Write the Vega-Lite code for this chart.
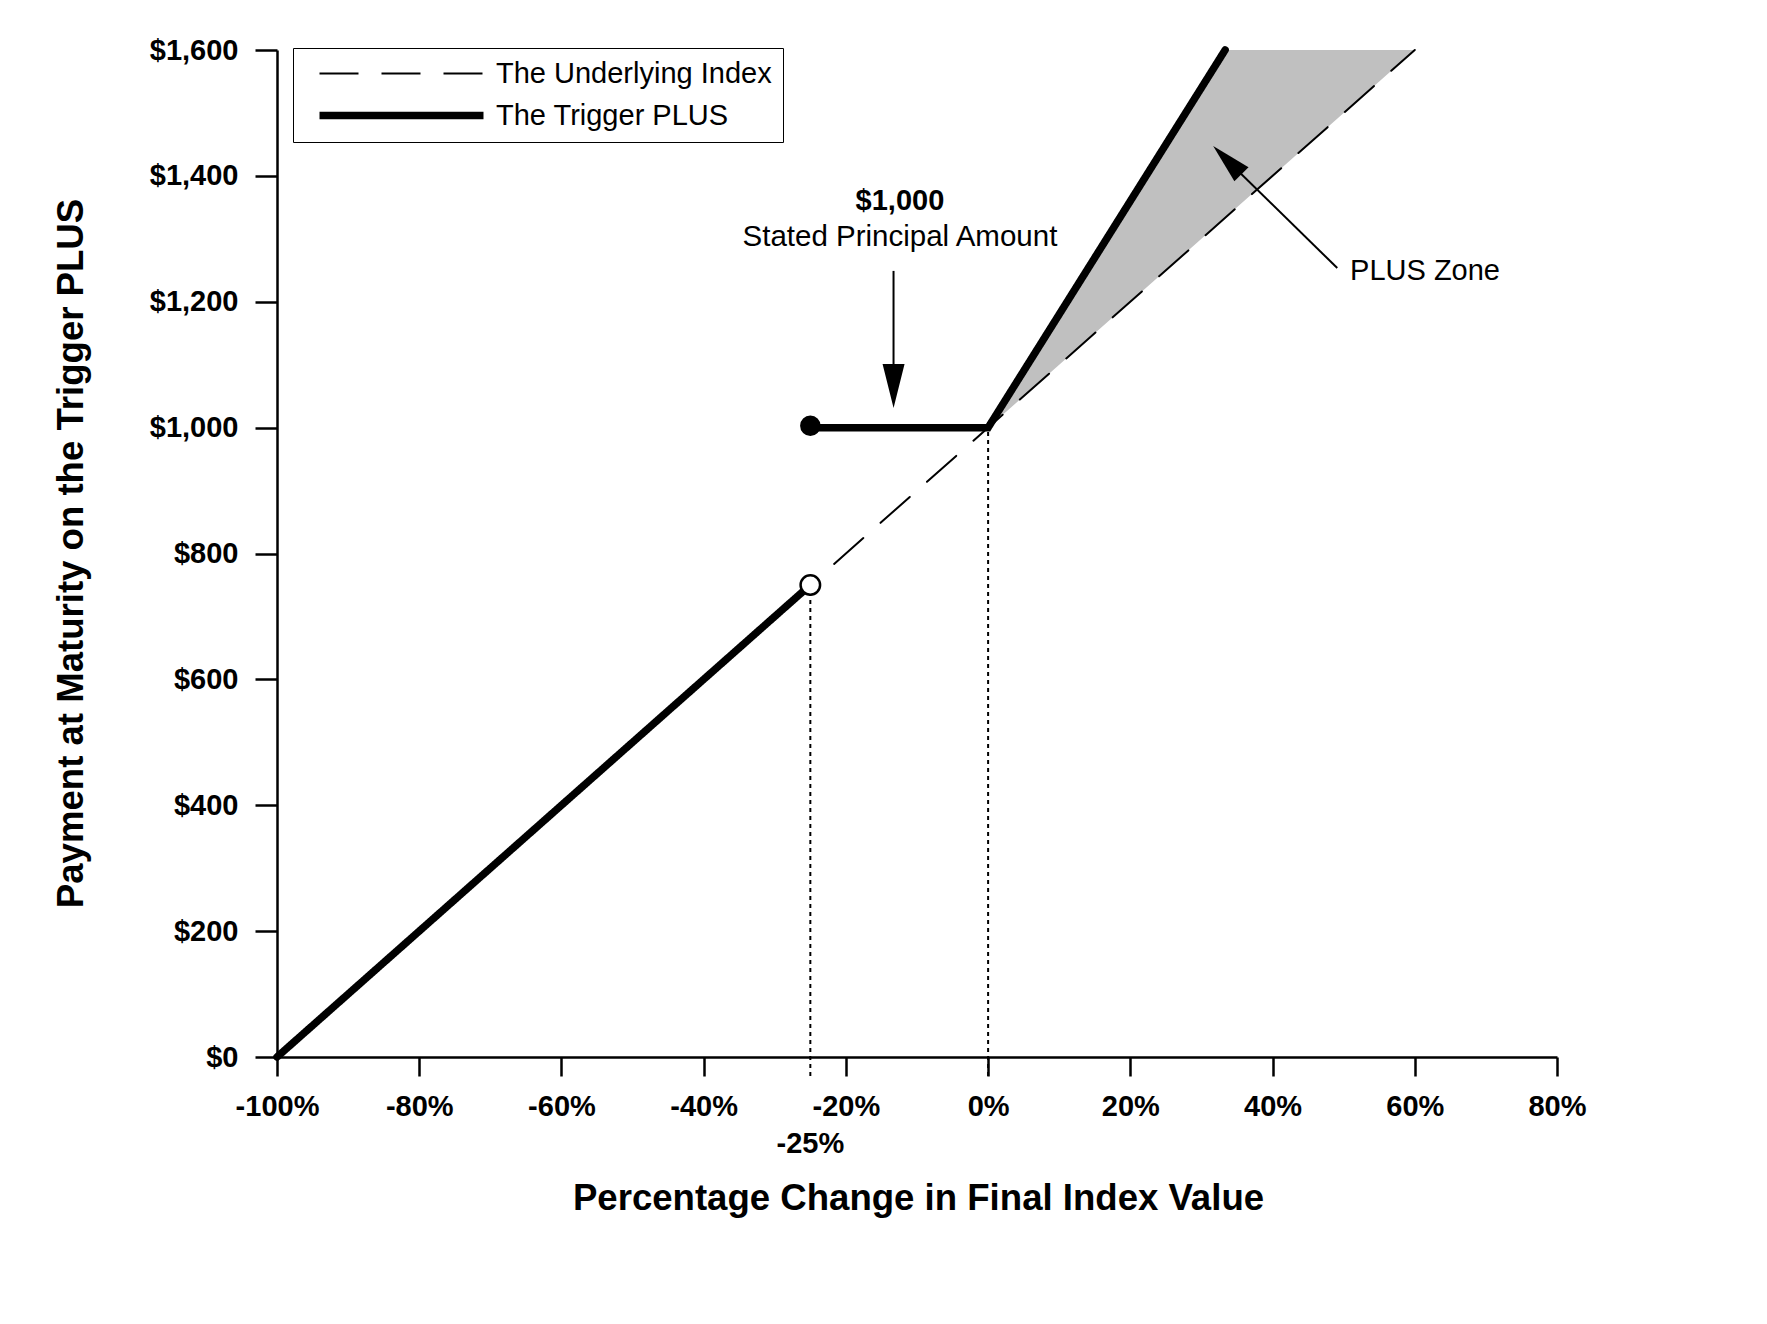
{
  "$schema": "https://vega.github.io/schema/vega-lite/v6.json",
  "autosize": {"type": "none"},
  "padding": {"left": 277, "top": 50, "right": 210, "bottom": 267},
  "width": 1280,
  "height": 1007,
  "config": {
    "font": "Liberation Sans",
    "view": {"stroke": null},
    "axis": {"grid": false, "domainColor": "black", "tickColor": "black", "labelColor": "black", "titleColor": "black", "domainWidth": 2.5, "tickWidth": 2.5, "labelFontSize": 29, "labelFontWeight": "bold", "titleFontSize": 36.6, "titleFontWeight": "bold", "labelOverlap": false, "labelFlush": false}
  },
  "datasets": {
    "zone": [
      {"x": 0, "y": 1000, "y2": 1000},
      {"x": 33.33, "y": 1600, "y2": 1333.3},
      {"x": 60, "y": 1600, "y2": 1600}
    ],
    "vlines": [
      {"x": -25, "y": -30, "y2": 750},
      {"x": 0, "y": -30, "y2": 1000}
    ],
    "lines": [
      {"x": -100, "y": 0, "series": "The Underlying Index", "seg": "index"},
      {"x": 60, "y": 1600, "series": "The Underlying Index", "seg": "index"},
      {"x": -100, "y": 0, "series": "The Trigger PLUS", "seg": "loss"},
      {"x": -25, "y": 750, "series": "The Trigger PLUS", "seg": "loss"},
      {"x": -25, "y": 1000, "series": "The Trigger PLUS", "seg": "gain"},
      {"x": 0, "y": 1000, "series": "The Trigger PLUS", "seg": "gain"},
      {"x": 33.33, "y": 1600, "series": "The Trigger PLUS", "seg": "gain"}
    ],
    "filled": [{"x": -25, "y": 1003}],
    "open": [{"x": -25, "y": 750}],
    "arrows": [
      {"x": -13.3, "y": 1249, "x2": -13.3, "y2": 1060},
      {"x": 49.1, "y": 1253.6, "x2": 33.33, "y2": 1428}
    ],
    "headDown": [{"x": -13.3, "y": 1031}],
    "headDiag": [{"x": 31.65, "y": 1447.5}],
    "boldText": [
      {"x": -12.4, "y": 1360, "label": "$1,000"},
      {"x": -25, "y": -138, "label": "-25%"}
    ],
    "regText": [{"x": -12.4, "y": 1303, "label": "Stated Principal Amount"}],
    "leftText": [{"x": 50.9, "y": 1249, "label": "PLUS Zone"}]
  },
  "layer": [
    {
      "data": {"name": "zone"},
      "mark": {"type": "area", "color": "#c0c0c0", "opacity": 1},
      "encoding": {
        "x": {
          "field": "x", "type": "quantitative",
          "scale": {"domain": [-100, 80], "nice": false, "zero": false},
          "axis": {
            "values": [-100, -80, -60, -40, -20, 0, 20, 40, 60, 80],
            "labelExpr": "datum.value + '%'",
            "tickSize": 19, "labelPadding": 16,
            "title": "Percentage Change in Final Index Value",
            "titleX": 641, "titleY": 141, "titleBaseline": "middle", "titleAnchor": null
          }
        },
        "y": {
          "field": "y", "type": "quantitative",
          "scale": {"domain": [0, 1600], "nice": false},
          "axis": {
            "values": [0, 200, 400, 600, 800, 1000, 1200, 1400, 1600],
            "format": "$,.0f",
            "tickSize": 22, "labelPadding": 17,
            "title": "Payment at Maturity on the Trigger PLUS",
            "titleX": -206, "titleY": 503, "titleAngle": -90, "titleAlign": "center", "titleBaseline": "middle"
          }
        },
        "y2": {"field": "y2"}
      }
    },
    {
      "data": {"name": "vlines"},
      "mark": {"type": "rule", "color": "black", "strokeWidth": 2, "strokeDash": [4, 4]},
      "encoding": {
        "x": {"field": "x", "type": "quantitative"},
        "y": {"field": "y", "type": "quantitative"},
        "y2": {"field": "y2"}
      }
    },
    {
      "data": {"name": "lines"},
      "mark": {"type": "line", "color": "black", "strokeCap": "round"},
      "encoding": {
        "x": {"field": "x", "type": "quantitative"},
        "y": {"field": "y", "type": "quantitative"},
        "detail": {"field": "seg"},
        "strokeDash": {
          "field": "series", "type": "nominal",
          "scale": {"domain": ["The Underlying Index", "The Trigger PLUS"], "range": [[39, 23], [1, 0]]},
          "legend": {
            "title": null, "orient": "none", "legendX": 16, "legendY": -2,
            "symbolType": "M 0.1 0 L 16.5 0", "symbolSize": 400,
            "labelFontSize": 29, "labelFont": "Liberation Sans", "labelColor": "black", "labelOffset": 163, "labelLimit": 500,
            "rowPadding": 11, "padding": 11, "strokeColor": "black"
          }
        },
        "strokeWidth": {
          "field": "series", "type": "nominal",
          "scale": {"type": "ordinal", "domain": ["The Underlying Index", "The Trigger PLUS"], "range": [2, 7.5]},
          "legend": {
            "title": null, "orient": "none", "legendX": 16, "legendY": -2,
            "symbolType": "M 0.1 0 L 16.5 0", "symbolSize": 400,
            "labelFontSize": 29, "labelFont": "Liberation Sans", "labelColor": "black", "labelOffset": 163, "labelLimit": 500,
            "rowPadding": 11, "padding": 11, "strokeColor": "black"
          }
        }
      }
    },
    {
      "data": {"name": "filled"},
      "mark": {"type": "point", "filled": true, "color": "black", "size": 420, "opacity": 1},
      "encoding": {"x": {"field": "x", "type": "quantitative"}, "y": {"field": "y", "type": "quantitative"}}
    },
    {
      "data": {"name": "open"},
      "mark": {"type": "point", "filled": false, "fill": "white", "fillOpacity": 1, "stroke": "black", "strokeWidth": 2.5, "size": 380, "opacity": 1},
      "encoding": {"x": {"field": "x", "type": "quantitative"}, "y": {"field": "y", "type": "quantitative"}}
    },
    {
      "data": {"name": "arrows"},
      "mark": {"type": "rule", "color": "black", "strokeWidth": 2},
      "encoding": {
        "x": {"field": "x", "type": "quantitative"},
        "y": {"field": "y", "type": "quantitative"},
        "x2": {"field": "x2"},
        "y2": {"field": "y2"}
      }
    },
    {
      "data": {"name": "headDown"},
      "mark": {"type": "point", "shape": "M 0 0 L -0.5 2 L 0.5 2 Z", "angle": 180, "filled": true, "color": "black", "size": 1936, "opacity": 1},
      "encoding": {"x": {"field": "x", "type": "quantitative"}, "y": {"field": "y", "type": "quantitative"}}
    },
    {
      "data": {"name": "headDiag"},
      "mark": {"type": "point", "shape": "M 0 0 L -0.5 2 L 0.5 2 Z", "angle": -45, "filled": true, "color": "black", "size": 1600, "opacity": 1},
      "encoding": {"x": {"field": "x", "type": "quantitative"}, "y": {"field": "y", "type": "quantitative"}}
    },
    {
      "data": {"name": "boldText"},
      "mark": {"type": "text", "fontSize": 29, "fontWeight": "bold", "color": "black", "align": "center", "baseline": "middle"},
      "encoding": {"x": {"field": "x", "type": "quantitative"}, "y": {"field": "y", "type": "quantitative"}, "text": {"field": "label"}}
    },
    {
      "data": {"name": "regText"},
      "mark": {"type": "text", "fontSize": 29.5, "color": "black", "align": "center", "baseline": "middle"},
      "encoding": {"x": {"field": "x", "type": "quantitative"}, "y": {"field": "y", "type": "quantitative"}, "text": {"field": "label"}}
    },
    {
      "data": {"name": "leftText"},
      "mark": {"type": "text", "fontSize": 29, "color": "black", "align": "left", "baseline": "middle"},
      "encoding": {"x": {"field": "x", "type": "quantitative"}, "y": {"field": "y", "type": "quantitative"}, "text": {"field": "label"}}
    }
  ]
}
